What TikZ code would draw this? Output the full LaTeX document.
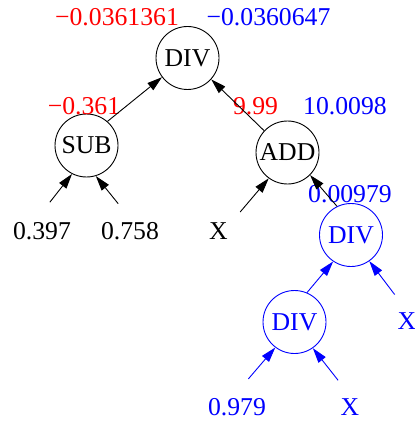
\documentclass[tikz,border=0pt]{standalone}
\usepackage{fontspec}
\setmainfont{Liberation Serif}
\usetikzlibrary{arrows.meta}
\definecolor{hlred}{RGB}{255,0,0}
\definecolor{hlblue}{RGB}{0,0,255}
\begin{document}
\begin{tikzpicture}[x=1pt,y=-1pt,
  every node/.style={font=\fontsize{25.7}{30}\selectfont},
  op/.style={circle,draw,minimum size=63pt,inner sep=0pt,line width=0.9pt},
  leaf/.style={circle,minimum size=58pt,inner sep=0pt},
  val/.style={inner sep=0pt},
  edge/.style={line width=0.9pt,-{Triangle[length=15pt,width=9pt]}}
]
\useasboundingbox (0,0) rectangle (414,422);
% operator nodes
\node[op] (div) at (187.5,58) {DIV};
\node[op] (sub) at (86.5,145.5) {SUB};
\node[op] (add) at (287.5,152.5) {ADD};
\node[op,draw=hlblue,text=hlblue] (div1) at (351,235) {DIV};
\node[op,draw=hlblue,text=hlblue] (div2) at (294.5,322) {DIV};
% leaves
\node[leaf] (l397) at (42,231.5) {0.397};
\node[leaf] (l758) at (130,231.5) {0.758};
\node[leaf] (lx1) at (218.5,231.5) {X};
\node[leaf,text=hlblue] (lx2) at (407,321) {X};
\node[leaf,text=hlblue] (l979) at (237,407) {0.979};
\node[leaf,text=hlblue] (lx3) at (350,407) {X};
% value labels
\node[val,text=hlred] (v1) at (117,17.5) {−0.0361361};
\node[val,text=hlblue] (v2) at (268.5,17.5) {−0.0360647};
\node[val,text=hlred] (v3) at (84,106) {−0.361};
\node[val,text=hlred] (v4) at (255.5,106) {9.99};
\node[val,text=hlblue] (v5) at (345,106) {10.0098};
\node[val,text=hlblue] (v6) at (350,194) {0.00979};
% edges
\draw[edge] (sub.49.5) -- (div.217.8);
\draw[edge] (add.137) -- (div.318);
\draw[edge] (l397.75.7) -- (sub.243);
\draw[edge] (l758.113.6) -- (sub.287);
\draw[edge] (lx1.42.7) -- (add.234);
\draw[edge] (div1.116.6) -- (add.315.6);
\draw[edge,hlblue] (div2.67) -- (div1.236);
\draw[edge,hlblue] (lx2.115.4) -- (div1.305.7);
\draw[edge,hlblue] (l979.68.6) -- (div2.233.8);
\draw[edge,hlblue] (lx3.114.8) -- (div2.305);
\end{tikzpicture}
\end{document}
